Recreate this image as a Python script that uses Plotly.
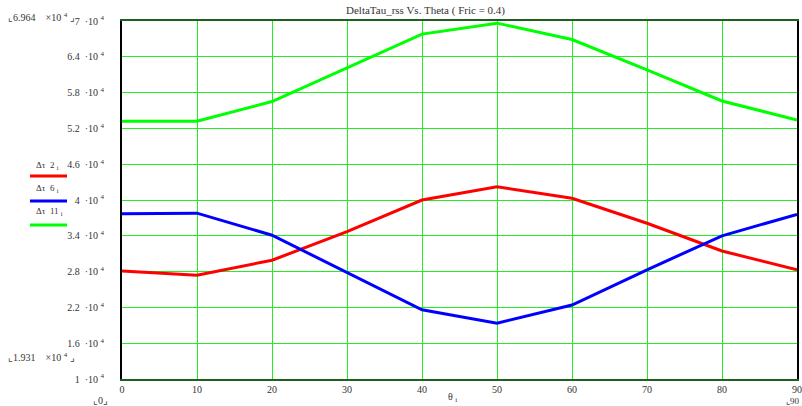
import plotly.graph_objects as go

theta = [0, 10, 20, 30, 40, 50, 60, 70, 80, 90]
dtau2 = [2.81e4, 2.74e4, 2.99e4, 3.47e4, 4.0e4, 4.22e4, 4.03e4, 3.61e4, 3.145e4, 2.83e4]
dtau6 = [3.77e4, 3.78e4, 3.41e4, 2.79e4, 2.16e4, 1.935e4, 2.24e4, 2.83e4, 3.40e4, 3.76e4]
dtau11 = [5.32e4, 5.32e4, 5.65e4, 6.22e4, 6.78e4, 6.964e4, 6.69e4, 6.18e4, 5.66e4, 5.34e4]

series_names = ["Δτ  2", "Δτ  6", "Δτ  11"]
series_colors = ["#ff0000", "#0000ff", "#00ff00"]

ytick_vals = [1e4, 1.6e4, 2.2e4, 2.8e4, 3.4e4, 4e4, 4.6e4, 5.2e4, 5.8e4, 6.4e4, 7e4]
ytick_text = ["1", "1.6", "2.2", "2.8", "3.4", "4", "4.6", "5.2", "5.8", "6.4", "7"]
xtick_vals = [0, 10, 20, 30, 40, 50, 60, 70, 80, 90]

title_text = "DeltaTau_rss Vs. Theta ( Fric = 0.4)"
FONT = "Liberation Serif, serif"
TXT = "#333333"

L, R, T, B = 122, 797, 21, 379

fig = go.Figure()
for name, ys, col in zip(series_names, [dtau2, dtau6, dtau11], series_colors):
    fig.add_trace(go.Scatter(x=theta, y=ys, mode="lines", name=name,
                             line=dict(color=col, width=3), showlegend=False))

fig.update_layout(
    width=802, height=406,
    margin=dict(l=L, r=802 - R, t=T, b=406 - B, autoexpand=False),
    paper_bgcolor="white", plot_bgcolor="white",
    font=dict(family=FONT, size=10, color=TXT),
    xaxis=dict(range=[0, 90], tickvals=xtick_vals, ticktext=[str(v) for v in xtick_vals],
               showgrid=True, gridcolor="#22ee22", gridwidth=1, zeroline=False,
               showline=True, linecolor="#1d5f1d", linewidth=2, mirror=True,
               ticks="", automargin=False, ticklabelstandoff=0,
               tickfont=dict(size=10, family=FONT, color=TXT)),
    yaxis=dict(range=[1e4, 7e4], tickvals=ytick_vals,
               ticktext=[t + "  ·10 <sup>4</sup>" for t in ytick_text],
               showgrid=True, gridcolor="#22ee22", gridwidth=1, zeroline=False,
               showline=True, linecolor="#000000", linewidth=2, mirror=True,
               ticks="", ticklabelstandoff=14, automargin=False,
               tickfont=dict(size=10, family=FONT, color=TXT)),
)


def px2paper(px, py):
    return (px - L) / (R - L), (B - py) / (B - T)


def ann(text, px, py, xanchor="center", size=10):
    x, y = px2paper(px, py)
    return dict(text=text, x=x, y=y, xref="paper", yref="paper", xanchor=xanchor,
                yanchor="middle", showarrow=False,
                font=dict(size=size, family=FONT, color=TXT))


annotations = [
    ann(title_text, 425, 11, size=11),
    ann("θ <sub>i</sub>", 452, 397),
    ann("⌞6.964    ×10 <sup>4</sup> ⌟", 6, 17, xanchor="left"),
    ann("⌞1.931    ×10 <sup>4</sup> ⌟", 6, 357, xanchor="left"),
    ann("⌞0⌟", 100, 400),
    ann("⌞90", 802, 401, xanchor="right", size=9),
]

shapes = []
legend_y = [(165, 176), (188, 201), (211, 225)]
for name, col, (ty, ly) in zip(series_names, series_colors, legend_y):
    annotations.append(ann(name + " <sub>i</sub>", 34, ty, xanchor="left", size=9))
    x0, y0 = px2paper(30, ly)
    x1, _ = px2paper(67, ly)
    shapes.append(dict(type="line", xref="paper", yref="paper", x0=x0, x1=x1, y0=y0, y1=y0,
                       line=dict(color=col, width=3)))

fig.update_layout(annotations=annotations, shapes=shapes)
fig.write_html("out.html", config={"displayModeBar": False},
               post_script="document.body.style.margin='0';document.body.style.padding='0';")
